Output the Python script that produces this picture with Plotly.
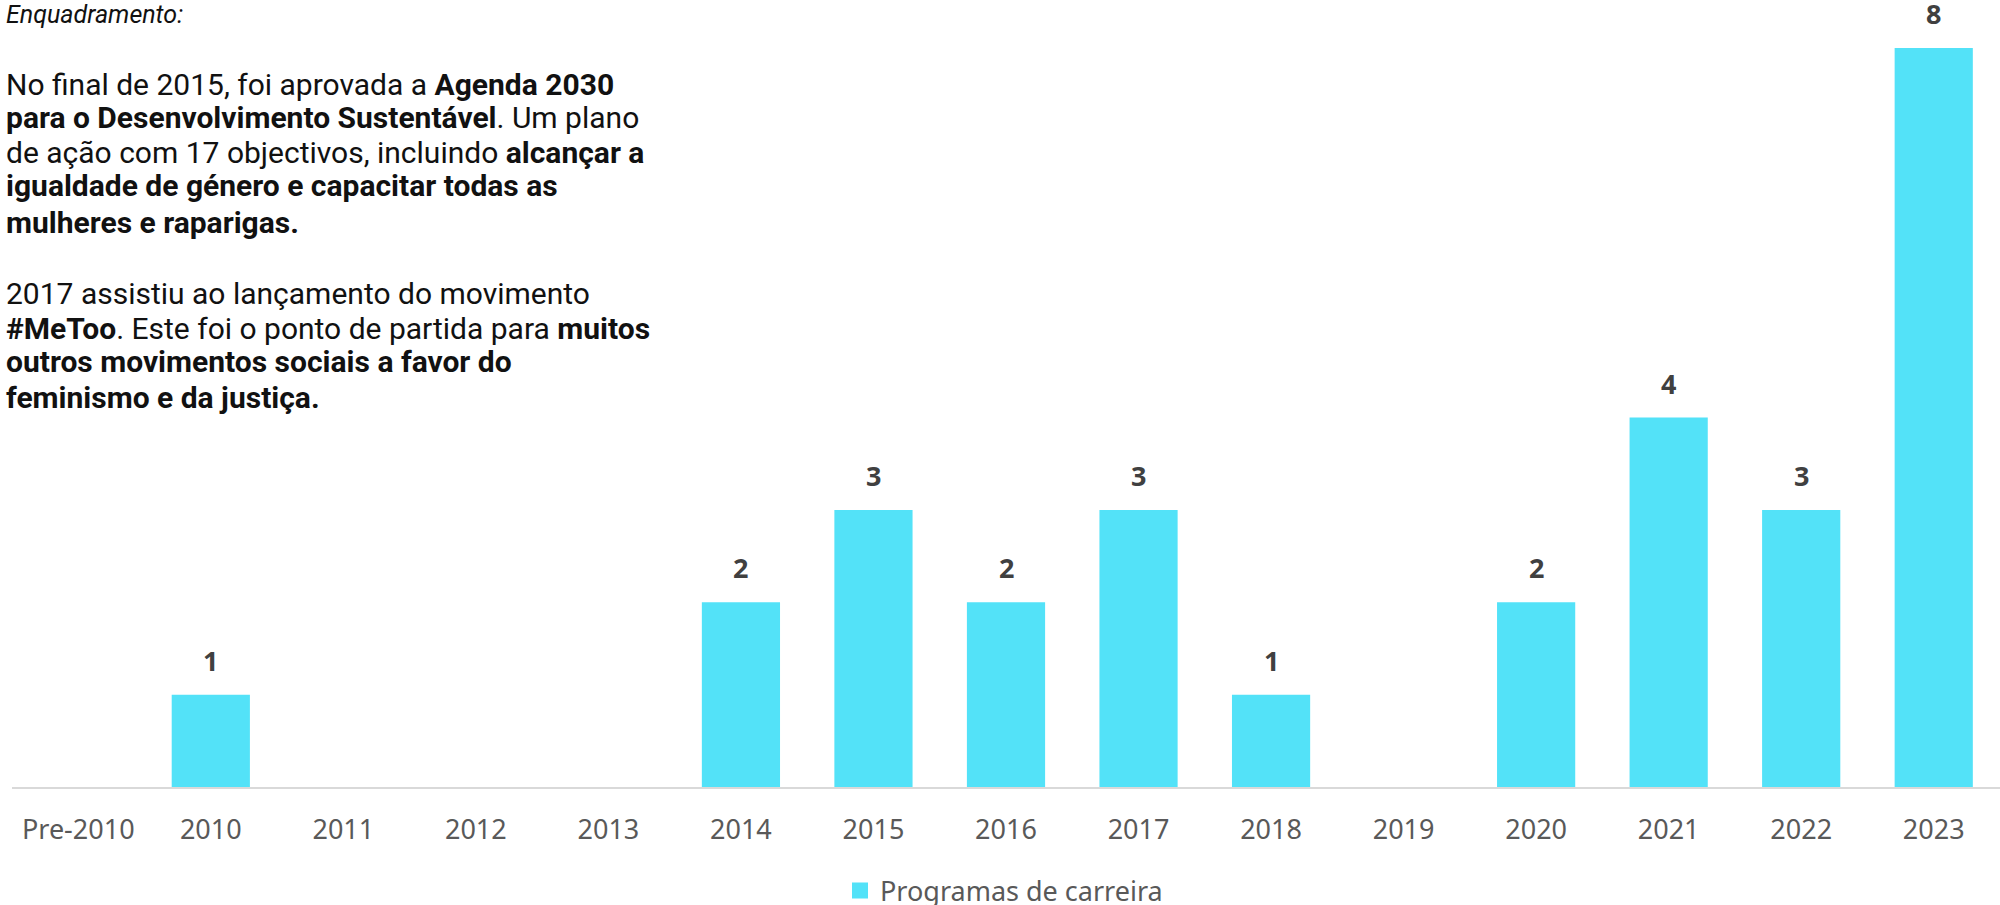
import plotly.graph_objects as go

categories = ["Pre-2010", "2010", "2011", "2012", "2013", "2014", "2015", "2016",
              "2017", "2018", "2019", "2020", "2021", "2022", "2023"]
values = [0, 1, 0, 0, 0, 2, 3, 2, 3, 1, 0, 2, 4, 3, 8]
series_name = "Programas de carreira"

text_lines = [
    "<i>Enquadramento:</i>",
    "No final de 2015, foi aprovada a <b>Agenda 2030</b>",
    "<b>para o Desenvolvimento Sustentável</b>. Um plano",
    "de ação com 17 objectivos, incluindo <b>alcançar a</b>",
    "<b>igualdade de género e capacitar todas as</b>",
    "<b>mulheres e raparigas.</b>",
    "2017 assistiu ao lançamento do movimento",
    "<b>#MeToo</b>. Este foi o ponto de partida para <b>muitos</b>",
    "<b>outros movimentos sociais a favor do</b>",
    "<b>feminismo e da justiça.</b>",
]
text_line_px = [15, 84, 117, 152, 186, 222, 293, 328, 362, 397]
text_line_size = [25, 30, 30, 30, 30, 30, 30, 30, 30, 30]

W, H = 2000, 905
ML, MR, MT, MB = 12, 0, 48, 118
plot_h = H - MT - MB
plot_w = W - ML - MR
BAR_COLOR = "#53E2F8"

fig = go.Figure()
fig.add_trace(go.Bar(
    x=categories, y=values, name=series_name,
    marker=dict(color=BAR_COLOR, line=dict(width=0)),
    showlegend=False,
))
# legend entry with a larger square swatch
fig.add_trace(go.Scatter(
    x=[None], y=[None], name=series_name, mode="markers",
    marker=dict(symbol="square", size=18, color=BAR_COLOR, line=dict(width=0)),
    showlegend=True,
))

for i, v in enumerate(values):
    if v > 0:
        fig.add_annotation(x=i, y=v, xref="x", yref="y", text=f"<b>{v}</b>",
                           showarrow=False, yanchor="bottom", yshift=14,
                           font=dict(family="Noto Sans", size=27, color="#404040"))

for t, ypx, fs in zip(text_lines, text_line_px, text_line_size):
    fig.add_annotation(x=(4 - ML) / plot_w, y=(H - MB - ypx) / plot_h,
                       xref="paper", yref="paper", text=t, showarrow=False,
                       xanchor="left", yanchor="middle", align="left",
                       font=dict(family="Roboto", size=fs, color="#111111"))

fig.update_layout(
    width=W, height=H,
    margin=dict(l=ML, r=MR, t=MT, b=MB, pad=0, autoexpand=False),
    paper_bgcolor="white", plot_bgcolor="white",
    bargap=0.41,
    xaxis=dict(type="category", range=[-0.5, len(categories) - 0.5],
               showline=True, linecolor="#D9D9D9", linewidth=2,
               showgrid=False, ticks="", ticklabelstandoff=18, automargin=False,
               tickfont=dict(family="Noto Sans", size=27, color="#595959")),
    yaxis=dict(range=[0, 8], visible=False, showgrid=False, zeroline=False,
               automargin=False),
    legend=dict(orientation="h", x=(1004 - ML) / plot_w, xanchor="center",
                y=-(891 - (H - MB)) / plot_h, yanchor="middle",
                font=dict(family="Noto Sans", size=27, color="#595959"),
                itemsizing="trace"),
    showlegend=True,
)

fig.write_html("out.html")
